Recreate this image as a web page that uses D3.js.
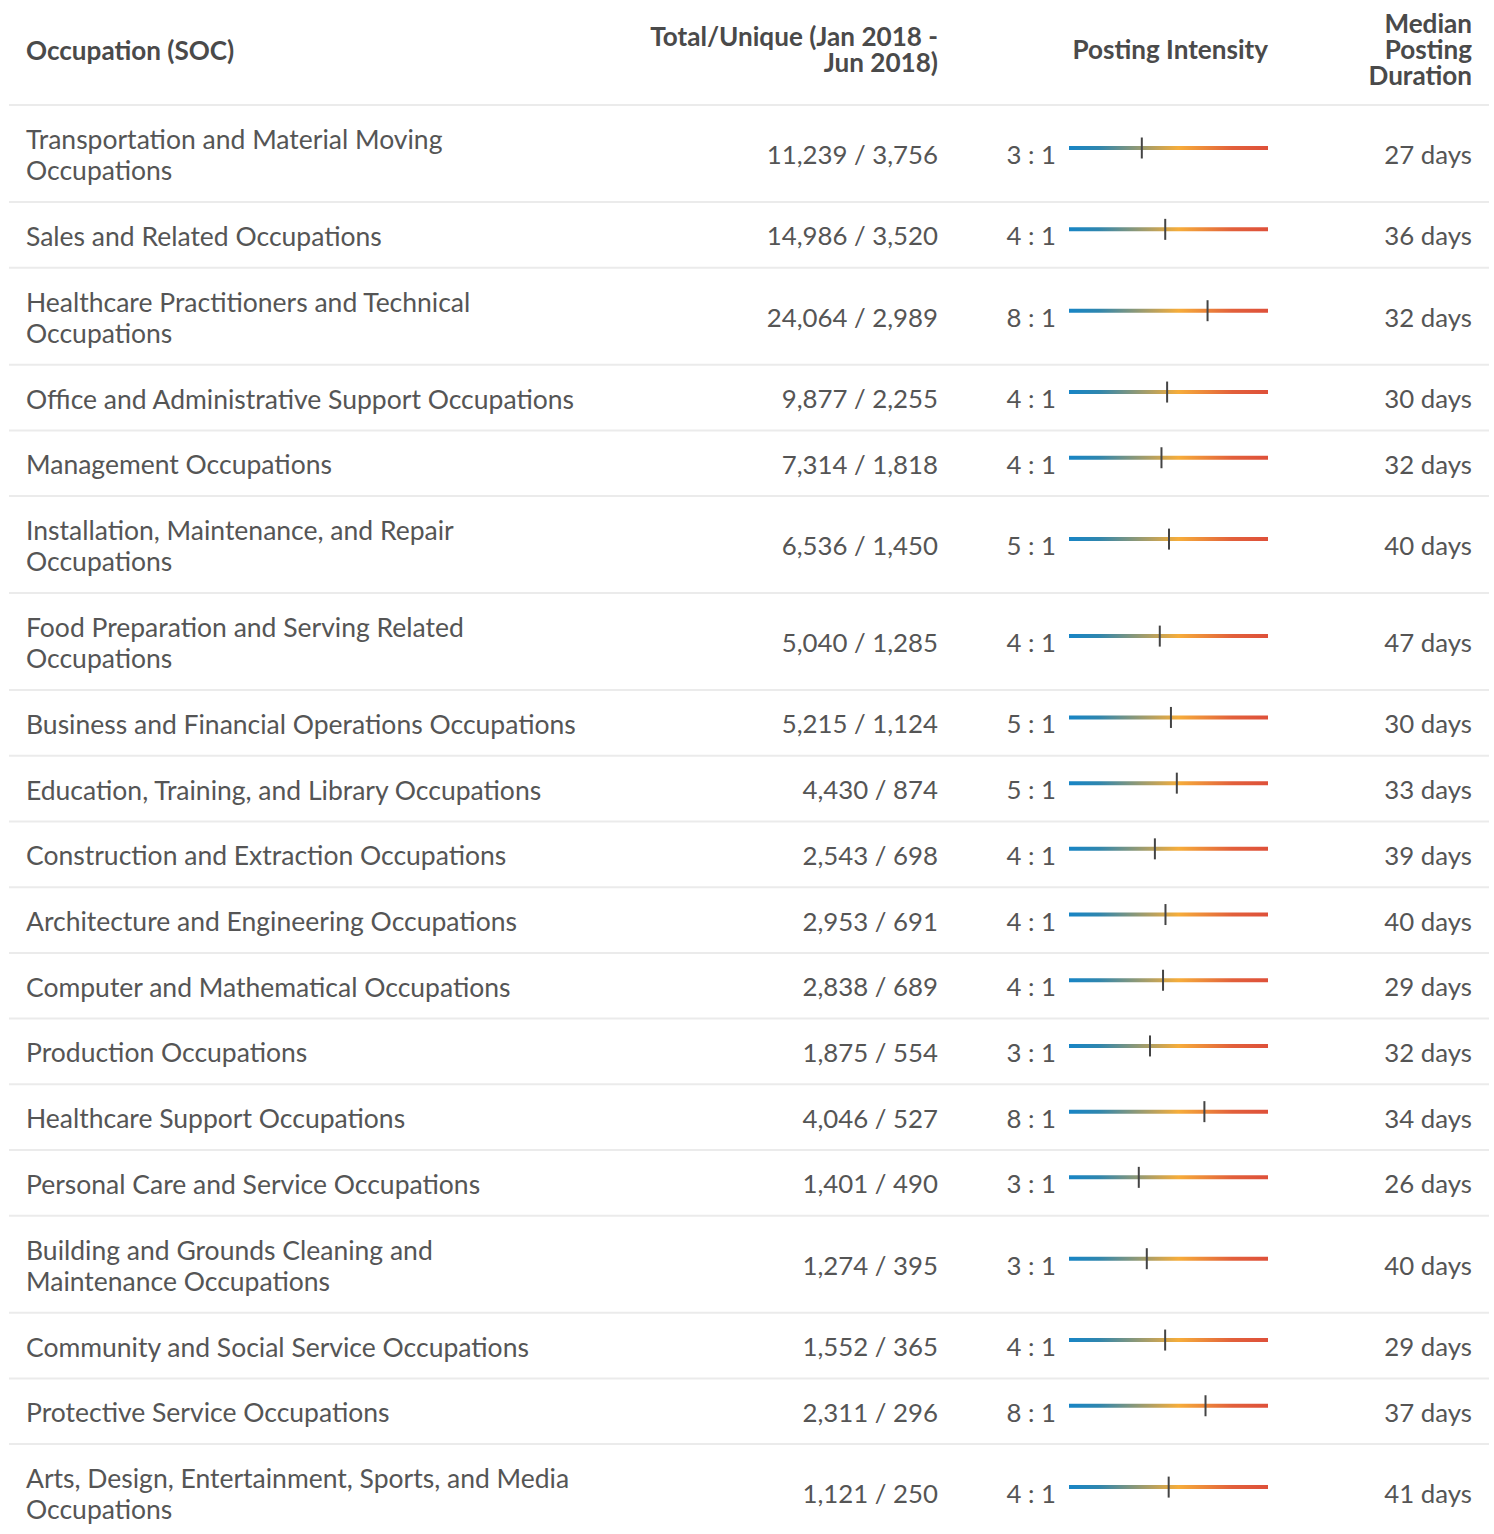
<!DOCTYPE html>
<html>
<head>
<meta charset="utf-8">
<script src="https://cdn.jsdelivr.net/npm/d3@7"></script>
<style>
  body { margin: 0; background: #fff; }
  svg text { font-family: Lato, "Noto Sans", sans-serif; }
</style>
</head>
<body>
<div id="chart"></div>
<script>
// table data
var occupations = [
  "Transportation and Material Moving Occupations",
  "Sales and Related Occupations",
  "Healthcare Practitioners and Technical Occupations",
  "Office and Administrative Support Occupations",
  "Management Occupations",
  "Installation, Maintenance, and Repair Occupations",
  "Food Preparation and Serving Related Occupations",
  "Business and Financial Operations Occupations",
  "Education, Training, and Library Occupations",
  "Construction and Extraction Occupations",
  "Architecture and Engineering Occupations",
  "Computer and Mathematical Occupations",
  "Production Occupations",
  "Healthcare Support Occupations",
  "Personal Care and Service Occupations",
  "Building and Grounds Cleaning and Maintenance Occupations",
  "Community and Social Service Occupations",
  "Protective Service Occupations",
  "Arts, Design, Entertainment, Sports, and Media Occupations"
];
var totalPostings = [11239, 14986, 24064, 9877, 7314, 6536, 5040, 5215, 4430, 2543,
                     2953, 2838, 1875, 4046, 1401, 1274, 1552, 2311, 1121];
var uniquePostings = [3756, 3520, 2989, 2255, 1818, 1450, 1285, 1124, 874, 698,
                      691, 689, 554, 527, 490, 395, 365, 296, 250];
var medianDays = [27, 36, 32, 30, 32, 40, 47, 30, 33, 39, 40, 29, 32, 34, 26, 40, 29, 37, 41];
var headers = {
  occupation: ["Occupation (SOC)"],
  totals: ["Total/Unique (Jan 2018 -", "Jun 2018)"],
  intensity: ["Posting Intensity"],
  duration: ["Median", "Posting", "Duration"]
};
var intensityDomain = [1, 20];
var gradientColors = ["#1785c6", "#2f86ae", "#f6ad3a", "#e2603b", "#de503a"];
var gradientStops = [0, 0.15, 0.55, 0.82, 1];

var width = 1494, height = 1534;
var colLeft = 26, colTotals = 938, colRatio = 1056, colDays = 1472;
var ruleLeft = 9, ruleRight = 1489, headerBottom = 105;
var fontSize = 26.5, numSize = 25.8, headSize = 26.1;
var lineStep = 31.3, rowPad = 34.4, wrapWidth = 556;

var svg = d3.select("#chart").append("svg")
  .attr("width", width)
  .attr("height", height);

var x = d3.scaleLog().domain(intensityDomain).range([1069, 1268]);
var fmt = d3.format(",");

var grad = svg.append("defs").append("linearGradient")
  .attr("id", "intensity")
  .attr("gradientUnits", "userSpaceOnUse")
  .attr("x1", x.range()[0]).attr("x2", x.range()[1])
  .attr("y1", 0).attr("y2", 0);
grad.selectAll("stop")
  .data(gradientStops)
  .enter().append("stop")
    .attr("offset", function(d) { return d; })
    .attr("stop-color", function(d, i) { return gradientColors[i]; });

// header
var head = svg.append("g")
  .attr("fill", "#4a4a4a")
  .attr("font-weight", 700)
  .attr("font-size", headSize);

function headerText(lines, xPos, anchor, firstBaseline) {
  head.append("text")
    .attr("text-anchor", anchor)
    .selectAll("tspan")
    .data(lines)
    .enter().append("tspan")
      .attr("x", xPos)
      .attr("y", function(d, i) { return firstBaseline + i * 26; })
      .text(function(d) { return d; });
}
headerText(headers.occupation, colLeft, "start", 60);
headerText(headers.totals, colTotals, "end", 46);
headerText(headers.intensity, x.range()[1], "end", 59);
headerText(headers.duration, colDays, "end", 33);

svg.append("line")
  .attr("x1", ruleLeft).attr("x2", ruleRight)
  .attr("y1", headerBottom).attr("y2", headerBottom)
  .attr("stroke", "#ebebeb").attr("stroke-width", 2);

// measure and wrap occupation names
var measure = svg.append("text").attr("font-size", fontSize);
function wrap(label) {
  var words = label.split(" "), lines = [], cur = "";
  words.forEach(function(w) {
    var test = cur ? cur + " " + w : w;
    measure.text(test);
    if (cur && measure.node().getComputedTextLength() > wrapWidth) {
      lines.push(cur);
      cur = w;
    } else {
      cur = test;
    }
  });
  lines.push(cur);
  return lines;
}

var rows = [];
var y0 = headerBottom;
occupations.forEach(function(name, i) {
  var lines = wrap(name);
  var h = rowPad + lineStep * lines.length;
  rows.push({
    lines: lines,
    top: y0,
    mid: y0 + h / 2,
    bottom: y0 + h,
    total: totalPostings[i],
    unique: uniquePostings[i],
    ratio: totalPostings[i] / uniquePostings[i],
    days: medianDays[i]
  });
  y0 += h;
});
measure.remove();

var row = svg.append("g")
  .attr("font-size", fontSize)
  .attr("fill", "#555")
  .selectAll("g")
  .data(rows)
  .enter().append("g");

row.append("text")
  .attr("x", colLeft)
  .selectAll("tspan")
  .data(function(d) {
    return d.lines.map(function(t, j) {
      return { t: t, y: d.mid + 11 + (j - (d.lines.length - 1) / 2) * lineStep };
    });
  })
  .enter().append("tspan")
    .attr("x", colLeft)
    .attr("y", function(d) { return d.y; })
    .text(function(d) { return d.t; });

row.append("text")
  .attr("x", colTotals)
  .attr("y", function(d) { return d.mid + 10.5; })
  .attr("text-anchor", "end")
  .attr("font-size", numSize)
  .text(function(d) { return fmt(d.total) + " / " + fmt(d.unique); });

row.append("text")
  .attr("x", colRatio)
  .attr("y", function(d) { return d.mid + 10.5; })
  .attr("text-anchor", "end")
  .attr("font-size", numSize)
  .text(function(d) { return Math.round(d.ratio) + " : 1"; });

row.append("line")
  .attr("x1", x.range()[0]).attr("x2", x.range()[1])
  .attr("y1", function(d) { return d.mid - 5.5; })
  .attr("y2", function(d) { return d.mid - 5.5; })
  .attr("stroke", "url(#intensity)")
  .attr("stroke-width", 4);

row.append("line")
  .attr("x1", function(d) { return x(d.ratio); })
  .attr("x2", function(d) { return x(d.ratio); })
  .attr("y1", function(d) { return d.mid - 16; })
  .attr("y2", function(d) { return d.mid + 5; })
  .attr("stroke", "#444")
  .attr("stroke-width", 2);

row.append("text")
  .attr("x", colDays)
  .attr("y", function(d) { return d.mid + 10.5; })
  .attr("text-anchor", "end")
  .attr("font-size", numSize)
  .text(function(d) { return d.days + " days"; });

row.append("line")
  .attr("x1", ruleLeft).attr("x2", ruleRight)
  .attr("y1", function(d) { return d.bottom; })
  .attr("y2", function(d) { return d.bottom; })
  .attr("stroke", "#ebebeb")
  .attr("stroke-width", 2);
</script>
</body>
</html>
